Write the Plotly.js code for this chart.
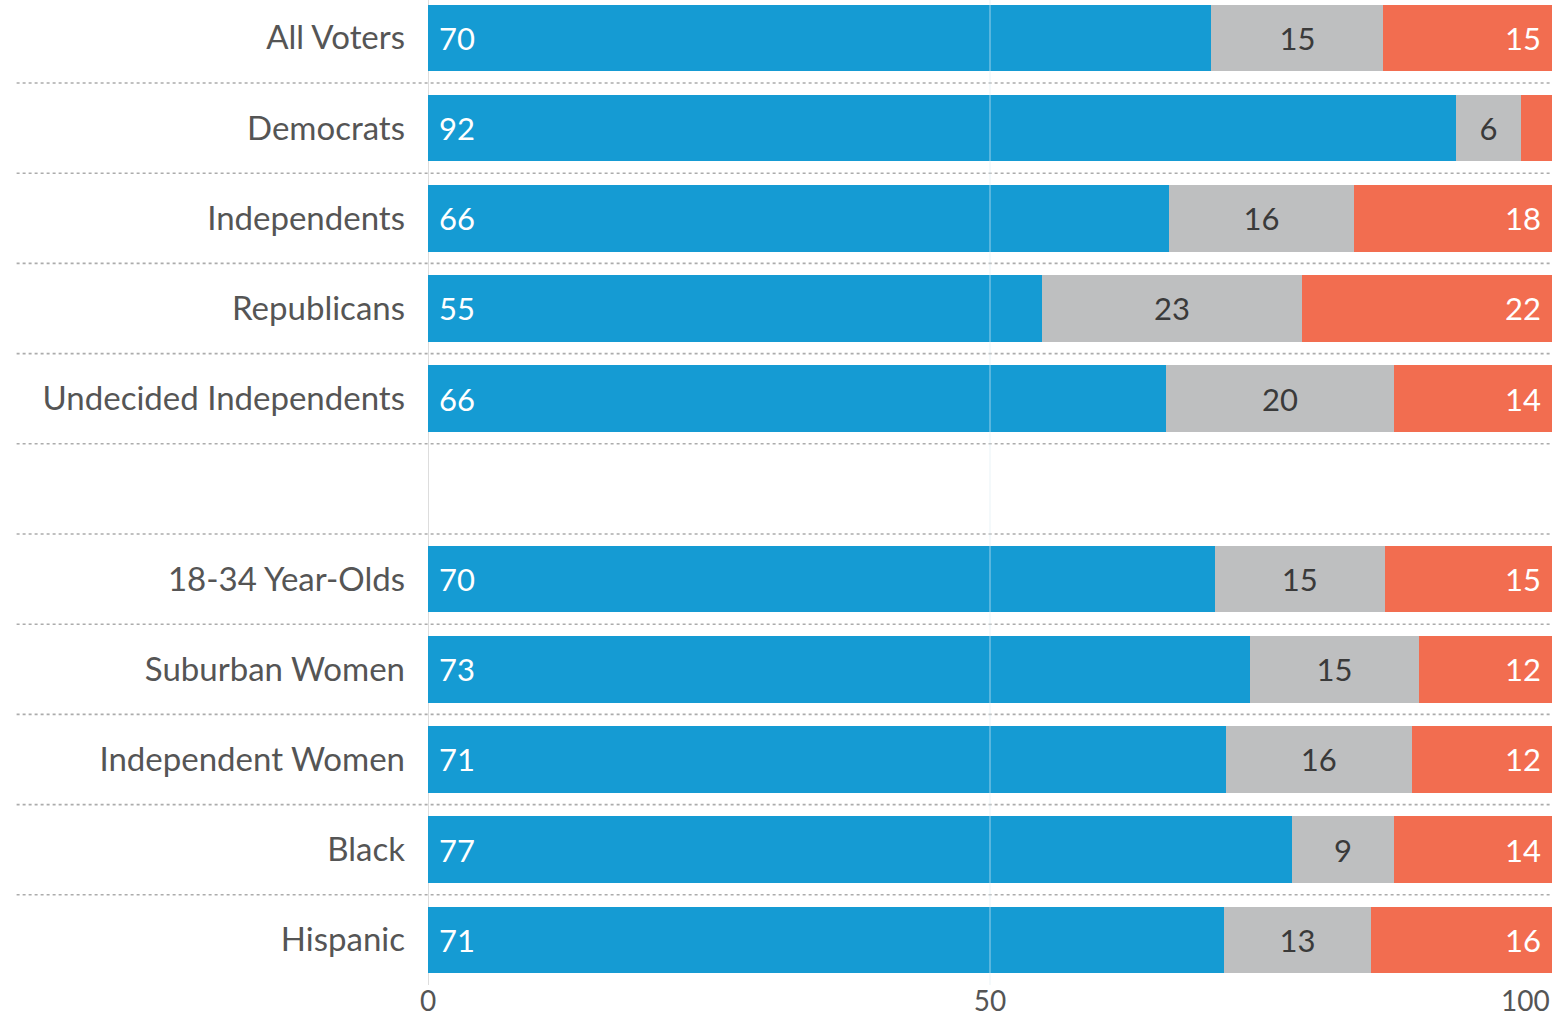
<!DOCTYPE html>
<html>
<head>
<meta charset="utf-8">
<script src="https://cdn.plot.ly/plotly-3.0.1.min.js"></script>
<style>html,body{margin:0;padding:0;background:#fff;}#chart{width:1555px;height:1020px;}</style>
</head>
<body>
<div id="chart"></div>
<script>
const categories = ['All Voters','Democrats','Independents','Republicans','Undecided Independents',' ','18-34 Year-Olds','Suburban Women','Independent Women','Black','Hispanic'];
const approveVals = [69.7, 91.5, 65.9, 54.6, 65.7, null, 70.0, 73.1, 71.0, 76.9, 70.8];
const unsureVals  = [15.3, 5.7, 16.5, 23.2, 20.2, null, 15.1, 15.1, 16.5, 9.0, 13.1];
const opposeVals  = [15.0, 2.8, 17.6, 22.2, 14.1, null, 14.9, 11.8, 12.5, 14.1, 16.1];
const approveLabels = ['70','92','66','55','66','','70','73','71','77','71'];
const unsureLabels  = ['15','6','16','23','20','','15','15','16','9','13'];
const opposeLabels  = ['15','','18','22','14','','15','12','12','14','16'];
const xTicks = [0, 50, 100];

const FONT = 'Lato, "Open Sans", sans-serif';
const LBL = 31;

function bar(vals, labels, color, tcolor, anchor, tmpl) {
  return {
    type: 'bar', orientation: 'h', y: categories, x: vals, text: labels,
    texttemplate: tmpl, textposition: 'inside', insidetextanchor: anchor,
    textangle: 0, constraintext: 'none',
    textfont: {family: FONT, size: LBL, color: tcolor},
    marker: {color: color, line: {width: 0}},
    hoverinfo: 'none', cliponaxis: false
  };
}

const traces = [
  bar(approveVals, approveLabels, '#159BD3', '#ffffff', 'start', '\u00a0%{text}'),
  bar(unsureVals, unsureLabels, '#BEBFC0', '#3a3a3a', 'middle', '%{text}'),
  bar(opposeVals, opposeLabels, '#F26D50', '#ffffff', 'end', '%{text}\u00a0')
];

const shapes = [];
for (let i = 0; i < categories.length - 1; i++) {
  shapes.push({type: 'line', xref: 'paper', yref: 'y', x0: -0.366, x1: 1, y0: i + 0.5, y1: i + 0.5,
    line: {color: '#acacac', width: 1.6, dash: 'dot'}, layer: 'below'});
}
shapes.push({type: 'line', xref: 'x', yref: 'paper', x0: 50, x1: 50, y0: 0, y1: 1,
  line: {color: 'rgba(225,238,245,0.45)', width: 1.5}, layer: 'above'});
shapes.push({type: 'line', xref: 'x', yref: 'paper', x0: 0, x1: 0, y0: 0, y1: 1,
  line: {color: '#dddddd', width: 2}, layer: 'below'});

const layout = {
  width: 1555, height: 1020,
  margin: {l: 428, r: 3, t: 0, b: 35},
  paper_bgcolor: '#ffffff', plot_bgcolor: '#ffffff',
  barmode: 'stack', bargap: 0.26, showlegend: false,
  font: {family: FONT, color: '#555555'},
  xaxis: {range: [0, 100], tickvals: xTicks, ticktext: ['0', '50', ''], showgrid: false,
    zeroline: false, showline: false, ticks: '', fixedrange: true, ticklabelstandoff: -3,
    tickfont: {family: FONT, size: 28, color: '#555555'}},
  yaxis: {type: 'category', categoryorder: 'array', categoryarray: categories,
    range: [10.5, -0.42], showgrid: false, zeroline: false, showline: false, ticks: '',
    ticklabelstandoff: 22, automargin: false,
    tickfont: {family: FONT, size: 33, color: '#555555'}},
  shapes: shapes,
  annotations: [{xref: 'x', yref: 'paper', x: 100, y: 0, xanchor: 'right', yanchor: 'middle',
    yshift: -15, text: String(xTicks[2]), showarrow: false,
    font: {family: FONT, size: 28, color: '#555555'}}]
};

Plotly.newPlot('chart', traces, layout, {displayModeBar: false, staticPlot: true});
</script>
</body>
</html>
